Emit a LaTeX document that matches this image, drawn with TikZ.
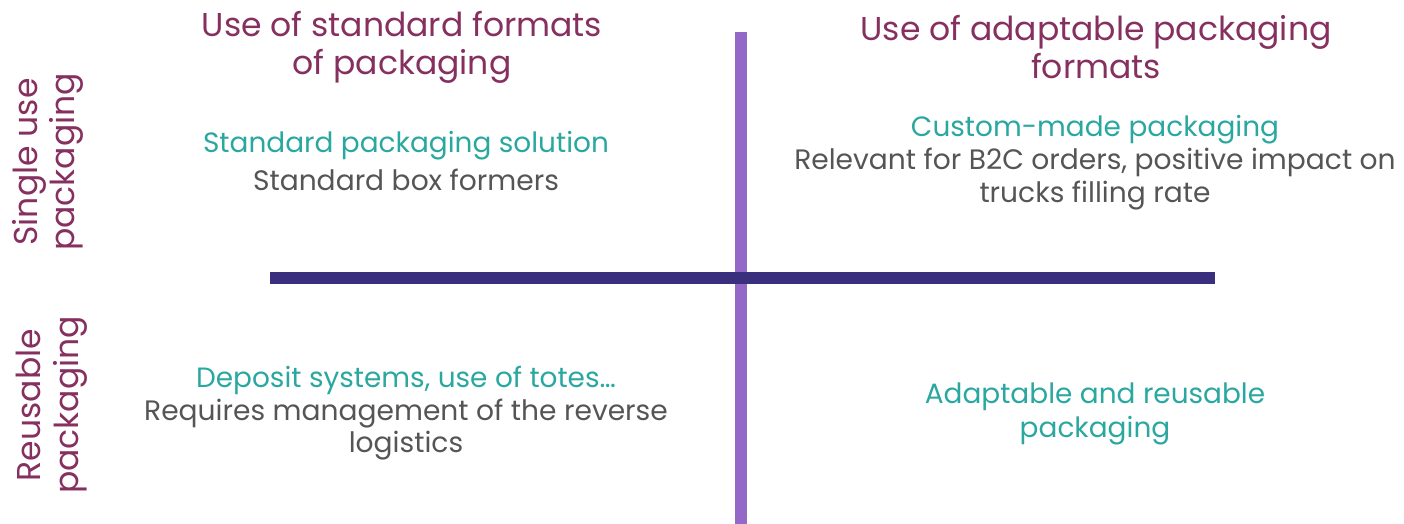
\documentclass[tikz,border=0pt]{standalone}
\usepackage{fontspec}
\setmainfont{Poppins}
\definecolor{Plum}{HTML}{86305F}
\definecolor{Teal}{HTML}{2AA8A0}
\definecolor{Slate}{HTML}{555555}
\definecolor{Lilac}{HTML}{9468C6}
\definecolor{Indigo}{HTML}{3A2F7C}

\begin{document}
\begin{tikzpicture}[x=0.02cm, y=-0.02cm,
        header/.style = {text=Plum, font=\fontsize{18.8}{21.5}\selectfont, align=center, inner sep=0pt},
        side/.style   = {header, rotate=90},
        title/.style  = {text=Teal, font=\fontsize{15.9}{19}\selectfont, align=center, inner sep=0pt},
        body/.style   = {text=Slate, font=\fontsize{16}{18.5}\selectfont, align=center, inner sep=0pt},
        axis/.style   = {line width=0.24cm}
    ]
    \useasboundingbox (0,0) rectangle (1404,524);

    % --- Axes ---
    \coordinate (top) at (741,32);
    \coordinate (bottom) at (741,524);
    \coordinate (left) at (270,278);
    \coordinate (right) at (1215,278);
    \draw[axis, Lilac] (top) -- (bottom);
    \draw[axis, Indigo] (left) -- (right);

    % --- Column headers ---
    \node[header] (std) at (402,47) {Use of standard formats\\of packaging};
    \node[header] (adapt) at (1096,47) {Use of adaptable packaging\\formats};

    % --- Row headers ---
    \node[side] (single) at (48,162) {Single use\\packaging};
    \node[side] (reuse) at (52,405) {Reusable\\packaging};

    % --- Quadrants ---
    \node[title] (q1) at (406,146) {Standard packaging solution};
    \node[body] (q1_txt) at (406,180) {Standard box formers};

    \node[title] (q2) at (1095,130) {Custom-made packaging};
    \node[body] (q2_txt) at (1095,179) {Relevant for B2C orders, positive impact on\\trucks filling rate};

    \node[title] (q3) at (406,380) {Deposit systems, use of totes\dots};
    \node[body] (q3_txt) at (406,429.5) {Requires management of the reverse\\logistics};

    \node[title] (q4) at (1095,414) {Adaptable and reusable\\packaging};

\end{tikzpicture}
\end{document}
